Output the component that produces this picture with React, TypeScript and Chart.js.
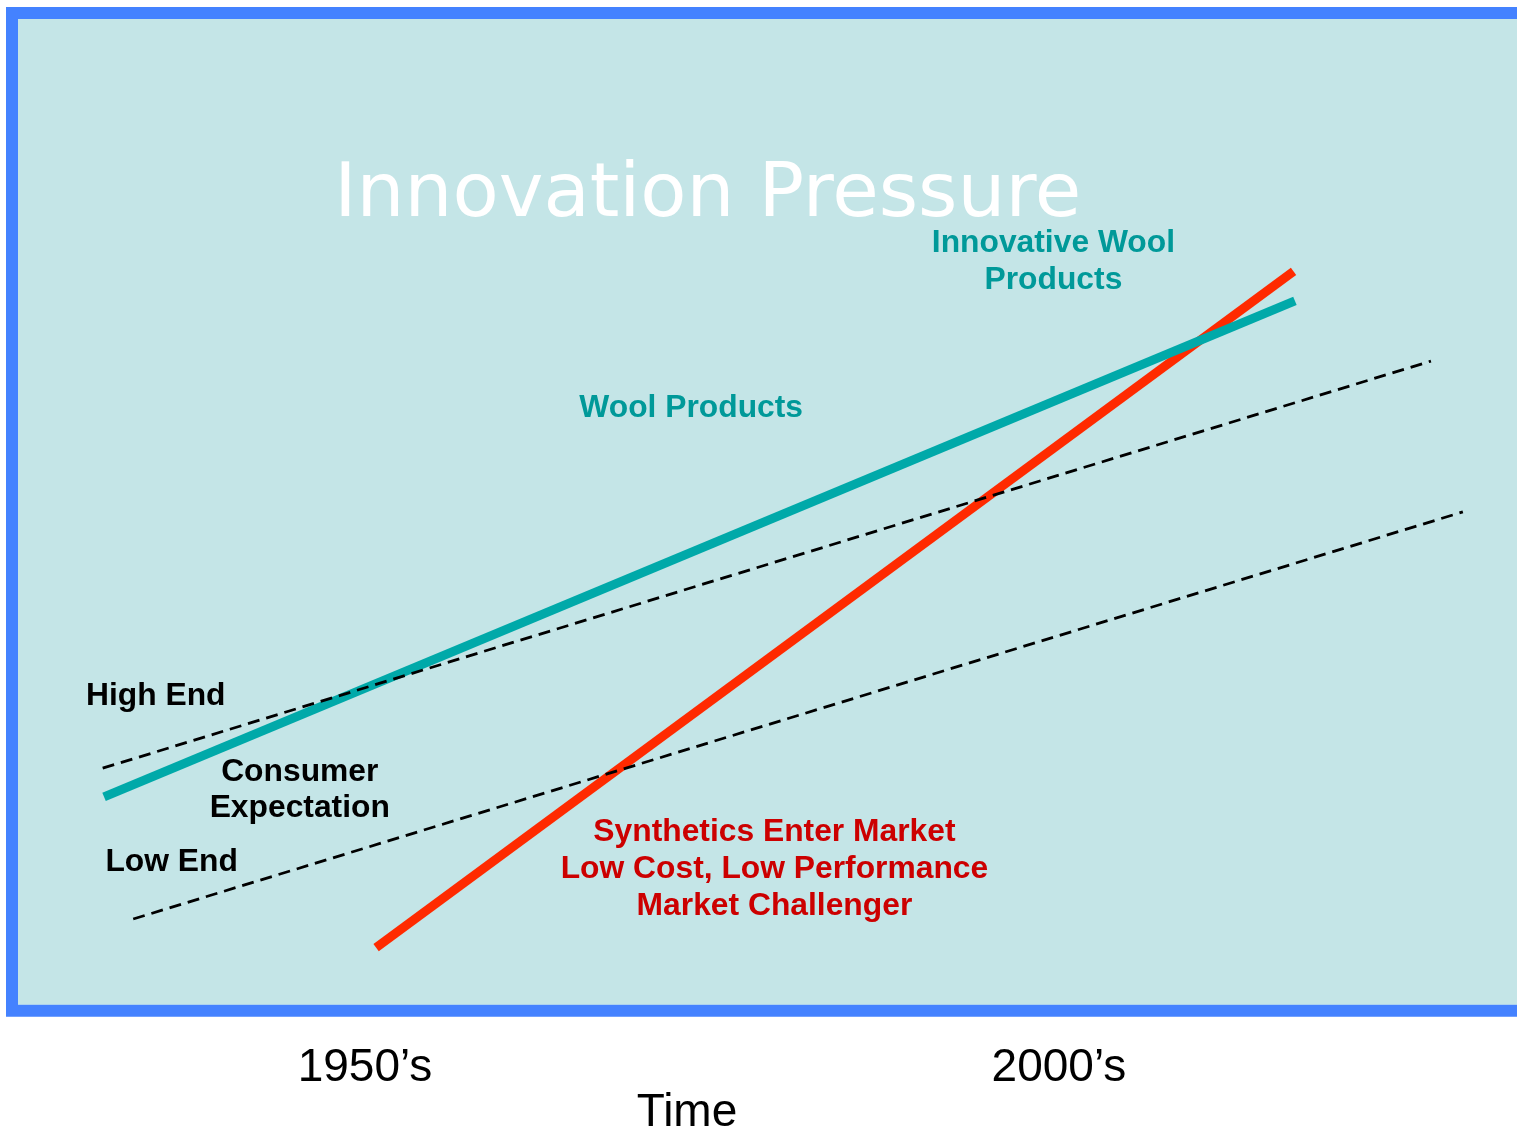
import React, { useEffect, useRef } from "react";
import { Chart, registerables } from "chart.js";

Chart.register(...registerables);

// Decade positions on the time axis
const tickYears = [1950, 2000];
const tickLabels = ["1950’s", "2000’s"];

// Line series: [start, end] as (year, pressure)
const woolProducts = [
  { x: 1931.2, y: 21.1 },
  { x: 2017.0, y: 71.4 },
];
const synthetics = [
  { x: 1950.8, y: 5.8 },
  { x: 2016.9, y: 74.4 },
];
const highEnd = [
  { x: 1931.1, y: 24.0 },
  { x: 2026.8, y: 65.3 },
];
const lowEnd = [
  { x: 1933.3, y: 8.7 },
  { x: 2029.1, y: 50.0 },
];

const SANS = '"Liberation Sans", Arial, sans-serif';
const LABEL = `bold 31.8px ${SANS}`;

// Text annotations in data coordinates
const annotations = [
  { text: "Innovation Pressure", x: 1974.7, y: 80.0, color: "#FFFFFF", font: `75.6px "DejaVu Sans", Verdana, sans-serif`, align: "center" },
  { text: "Innovative Wool", x: 1999.6, y: 76.4, color: "#009999", font: LABEL, align: "center" },
  { text: "Products", x: 1999.6, y: 72.6, color: "#009999", font: LABEL, align: "center" },
  { text: "Wool Products", x: 1973.5, y: 59.6, color: "#009999", font: LABEL, align: "center" },
  { text: "High End", x: 1929.9, y: 30.4, color: "#000000", font: LABEL, align: "left" },
  { text: "Consumer", x: 1945.3, y: 22.7, color: "#000000", font: LABEL, align: "center" },
  { text: "Expectation", x: 1945.3, y: 19.0, color: "#000000", font: LABEL, align: "center" },
  { text: "Low End", x: 1931.3, y: 13.6, color: "#000000", font: LABEL, align: "left" },
  { text: "Synthetics Enter Market", x: 1979.5, y: 16.6, color: "#CC0000", font: LABEL, align: "center" },
  { text: "Low Cost, Low Performance", x: 1979.5, y: 12.9, color: "#CC0000", font: LABEL, align: "center" },
  { text: "Market Challenger", x: 1979.5, y: 9.1, color: "#CC0000", font: LABEL, align: "center" },
  { text: "Time", x: 1973.2, y: -12.3, color: "#000000", font: `46px ${SANS}`, align: "center" },
];

const boxPlugin = {
  id: "box",
  beforeDraw(chart: any) {
    const { ctx, chartArea } = chart;
    const { left, top, right, bottom } = chartArea;
    ctx.save();
    ctx.fillStyle = "#C4E5E7";
    ctx.fillRect(left, top, right - left + 20, bottom - top);
    ctx.strokeStyle = "#4482FF";
    ctx.lineWidth = 12;
    ctx.lineJoin = "miter";
    ctx.beginPath();
    ctx.moveTo(right + 30, top - 6);
    ctx.lineTo(left - 6, top - 6);
    ctx.lineTo(left - 6, bottom + 6);
    ctx.lineTo(right + 30, bottom + 6);
    ctx.stroke();
    ctx.restore();
  },
};

const textPlugin = {
  id: "texts",
  afterDatasetsDraw(chart: any) {
    const { ctx, scales } = chart;
    ctx.save();
    ctx.textBaseline = "alphabetic";
    for (const a of annotations) {
      ctx.font = a.font;
      ctx.fillStyle = a.color;
      ctx.textAlign = a.align;
      ctx.fillText(a.text, scales.x.getPixelForValue(a.x), scales.y.getPixelForValue(a.y));
    }
    ctx.restore();
  },
};

export default function App() {
  const ref = useRef<HTMLCanvasElement | null>(null);

  useEffect(() => {
    if (!ref.current) return;
    const lineDs = (label: string, data: any[], color: string, width: number, dash: number[] = []) => ({
      label,
      data,
      borderColor: color,
      borderWidth: width,
      borderDash: dash,
      borderCapStyle: "butt",
      pointRadius: 0,
      fill: false,
      tension: 0,
    });
    const chart = new Chart(ref.current, {
      type: "line",
      data: {
        datasets: [
          lineDs("High End", highEnd, "#000000", 2.8, [12, 7]),
          lineDs("Low End", lowEnd, "#000000", 2.8, [12, 7]),
          lineDs("Wool Products", woolProducts, "#00A9A9", 9),
          lineDs("Synthetics", synthetics, "#FF2A00", 9),
        ] as any,
      },
      options: {
        animation: false,
        responsive: false,
        devicePixelRatio: 1,
        parsing: true,
        layout: { padding: { left: 18, top: 19, right: 0, bottom: 1 } },
        plugins: { legend: { display: false }, tooltip: { enabled: false } },
        scales: {
          x: {
            type: "linear",
            min: 1925,
            max: 2033,
            grid: { display: false, drawTicks: false },
            border: { display: false },
            afterBuildTicks: (scale: any) => {
              scale.ticks = tickYears.map((v) => ({ value: v }));
            },
            ticks: {
              padding: 36,
              autoSkip: false,
              maxRotation: 0,
              color: "#000000",
              font: { family: SANS, size: 46 },
              callback: (v: any) => {
                const i = tickYears.indexOf(Number(v));
                return i >= 0 ? tickLabels[i] : "";
              },
            },
          },
          y: {
            type: "linear",
            min: 0,
            max: 100,
            display: false,
          },
        },
      } as any,
      plugins: [boxPlugin, textPlugin],
    });
    return () => chart.destroy();
  }, []);

  return (
    <div style={{ position: "absolute", left: 0, top: 0, width: 1517, height: 1133, overflow: "hidden", background: "#FFFFFF" }}>
      <canvas ref={ref} width={1517} height={1133} style={{ display: "block" }} />
    </div>
  );
}
